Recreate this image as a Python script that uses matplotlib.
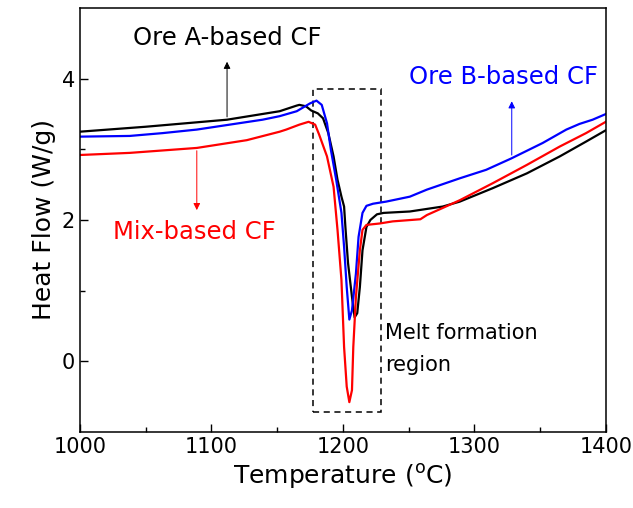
import numpy as np
import matplotlib
matplotlib.use('Agg')
import matplotlib.pyplot as plt
from matplotlib.patches import Rectangle

# Data
temp_a = [1000, 1050, 1112, 1142, 1152, 1165, 1167, 1172, 1176, 1181, 1185, 1189, 1193, 1196,
          1199, 1201, 1202, 1204, 1207, 1209, 1211, 1213, 1215, 1218, 1221, 1226, 1231, 1251,
          1276, 1289, 1314, 1340, 1365, 1385, 1400]
flow_a = [3.25, 3.32, 3.42, 3.51, 3.54, 3.62, 3.63, 3.61, 3.55, 3.51, 3.44, 3.23, 2.90, 2.57,
          2.33, 2.19, 1.90, 1.39, 0.91, 0.62, 0.68, 1.05, 1.57, 1.90, 2.00, 2.08, 2.10, 2.12,
          2.19, 2.26, 2.45, 2.66, 2.90, 3.11, 3.27]

temp_b = [1000, 1038, 1063, 1089, 1114, 1139, 1152, 1165, 1175, 1180, 1184, 1188, 1191, 1195,
          1199, 1201, 1203, 1205, 1207, 1210, 1212, 1215, 1218, 1223, 1233, 1251, 1264, 1289,
          1309, 1328, 1352, 1370, 1380, 1390, 1400]
flow_b = [3.18, 3.19, 3.23, 3.28, 3.35, 3.42, 3.47, 3.54, 3.65, 3.69, 3.63, 3.37, 2.99, 2.57,
          2.10, 1.62, 1.05, 0.59, 0.72, 1.24, 1.76, 2.10, 2.20, 2.23, 2.26, 2.33, 2.43, 2.59,
          2.71, 2.87, 3.09, 3.28, 3.36, 3.42, 3.50]

temp_mix = [1000, 1038, 1089, 1127, 1152, 1157, 1167, 1174, 1179, 1182, 1188, 1193, 1196, 1199,
            1201, 1203, 1205, 1207, 1208, 1210, 1213, 1215, 1218, 1228, 1238, 1259, 1264, 1276,
            1289, 1314, 1340, 1365, 1385, 1400]
flow_mix = [2.92, 2.95, 3.02, 3.13, 3.25, 3.28, 3.35, 3.39, 3.35, 3.21, 2.90, 2.47, 1.86, 1.15,
            0.20, -0.36, -0.58, -0.41, 0.20, 0.91, 1.57, 1.86, 1.93, 1.95, 1.98, 2.01, 2.07, 2.17,
            2.28, 2.52, 2.78, 3.04, 3.23, 3.39]

x_ticks = [1000, 1100, 1200, 1300, 1400]
y_ticks = [0, 2, 4]

fig = plt.figure(figsize=(6.33, 5.08), dpi=100)
ax = fig.add_axes([0.126, 0.150, 0.831, 0.834])

ax.plot(temp_a, flow_a, color='black', lw=1.6)
ax.plot(temp_b, flow_b, color='#0000ff', lw=1.6)
ax.plot(temp_mix, flow_mix, color='#ff0000', lw=1.6)

# melt formation box
ax.add_patch(Rectangle((1177, -0.72), 52, 4.58, fill=False, ls=(0, (4, 3)),
                       lw=1.1, ec='black'))
ax.text(1232, 0.17, 'Melt formation\nregion', fontsize=15, va='center', ha='left',
        linespacing=1.75)

# labels with arrows
ax.annotate('', xy=(1112, 4.28), xytext=(1112, 3.42),
            arrowprops=dict(arrowstyle='-|>', color='black', lw=0.7, mutation_scale=10))
ax.text(1112, 4.57, 'Ore A-based CF', fontsize=17.5, ha='center', va='center', color='black')

ax.annotate('', xy=(1328.5, 3.72), xytext=(1328.5, 2.88),
            arrowprops=dict(arrowstyle='-|>', color='#0000ff', lw=0.7, mutation_scale=10))
ax.text(1322, 4.03, 'Ore B-based CF', fontsize=17.5, ha='center', va='center', color='#0000ff')

ax.annotate('', xy=(1089, 2.1), xytext=(1089, 3.02),
            arrowprops=dict(arrowstyle='-|>', color='#ff0000', lw=0.7, mutation_scale=10))
ax.text(1087, 1.83, 'Mix-based CF', fontsize=17.5, ha='center', va='center', color='#ff0000')

ax.set_xlim(1000, 1400)
ax.set_ylim(-1, 5)
ax.set_xticks(x_ticks)
ax.set_yticks(y_ticks)
ax.set_xticks(np.arange(1050, 1400, 100), minor=True)
ax.set_yticks([1, 3], minor=True)
ax.tick_params(which='major', direction='in', length=6, width=1, labelsize=15)
ax.tick_params(which='minor', direction='in', length=3.5, width=1)
for s in ax.spines.values():
    s.set_linewidth(1.1)

ax.set_xlabel('Temperature ($\\mathregular{^{o}}$C)', fontsize=18)
ax.set_ylabel('Heat Flow (W/g)', fontsize=18)

fig.savefig('out.png', dpi=100)
